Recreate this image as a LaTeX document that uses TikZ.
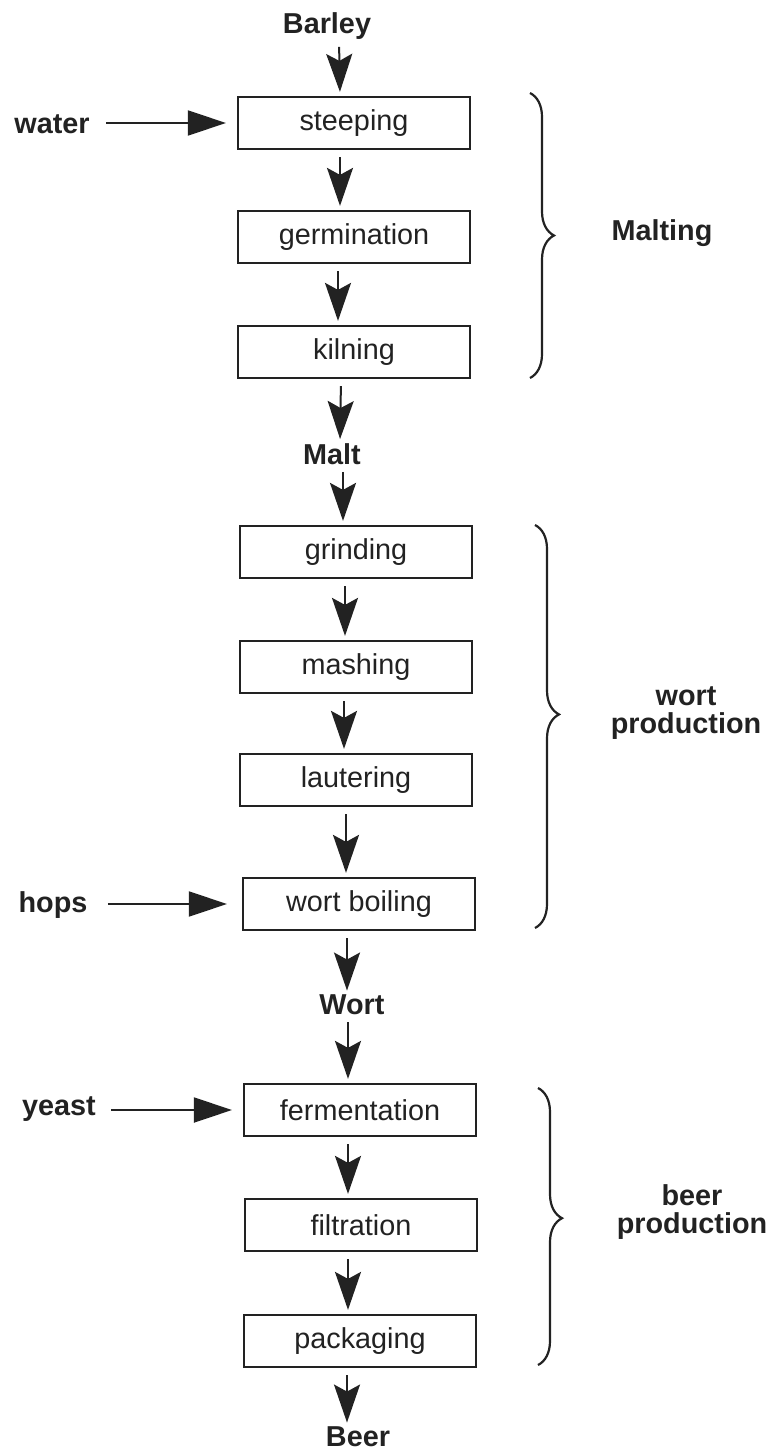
\documentclass[tikz,border=0pt]{standalone}
\usepackage{fontspec}
\setmainfont{Liberation Sans}
\usetikzlibrary{arrows.meta,decorations.pathreplacing}
\definecolor{ink}{HTML}{222222}
\begin{document}
\begin{tikzpicture}[x=0.5pt,y=-0.5pt,
  every node/.style={text=ink,font=\fontsize{14.4}{14.5}\selectfont},
  stage/.style={draw=ink,line width=1.1pt,minimum width=116pt,minimum height=26pt,inner sep=0pt},
  prod/.style={inner sep=0pt,font=\fontsize{14.4}{14.5}\selectfont\bfseries},
  inlbl/.style={inner sep=0pt,font=\fontsize{14.4}{14.5}\selectfont\bfseries},
  grp/.style={inner sep=0pt,align=center,font=\fontsize{14.4}{14}\selectfont\bfseries},
  vflow/.style={draw=ink,line width=1pt,-{Stealth[length=19pt,width=13pt,inset=3.5pt]},shorten <=3.5pt,shorten >=2pt},
  hflow/.style={draw=ink,line width=1pt,-{Triangle[length=19pt,width=12.5pt]}},
  bracebar/.style={draw=ink,line width=1.1pt,decorate,decoration={brace,amplitude=12pt}}]
\useasboundingbox (0,0) rectangle (774,1454);
% products
\node[prod] (barley) at (327,26) {Barley};
\node[prod] (malt) at (332,454) {Malt};
\node[prod] (wort) at (352,1005) {Wort};
\node[prod] (beer) at (358,1437) {Beer};
% stages
\node[stage] (steep) at (354,123) {steeping};
\node[stage] (germ) at (354,237) {germination};
\node[stage] (kiln) at (354,352) {kilning};
\node[stage] (grind) at (356,552) {grinding};
\node[stage] (mash) at (356,667) {mashing};
\node[stage] (laut) at (356,780) {lautering};
\node[stage] (boil) at (359,904) {wort boiling};
\node[stage] (ferm) at (360,1110) {fermentation};
\node[stage] (filt) at (361,1225) {filtration};
\node[stage] (pack) at (360,1341) {packaging};
% inputs
\node[inlbl] (water) at (52,124) {water};
\node[inlbl] (hops) at (53,905) {hops};
\node[inlbl] (yeast) at (59,1109) {yeast};
% vertical flow
\draw[vflow] ([xshift=6pt]barley.south) -- ([xshift=-7pt]steep.north);
\draw[vflow] ([xshift=-7pt]steep.south) -- ([xshift=-7pt]germ.north);
\draw[vflow] ([xshift=-8pt]germ.south) -- ([xshift=-8pt]kiln.north);
\draw[vflow] ([xshift=-6.5pt]kiln.south) -- ([xshift=4pt]malt.north);
\draw[vflow] ([xshift=5.5pt]malt.south) -- ([xshift=-6.5pt]grind.north);
\draw[vflow] ([xshift=-5.5pt]grind.south) -- ([xshift=-5.5pt]mash.north);
\draw[vflow] ([xshift=-6pt]mash.south) -- ([xshift=-6pt]laut.north);
\draw[vflow] ([xshift=-5pt]laut.south) -- ([xshift=-6.5pt]boil.north);
\draw[vflow] ([xshift=-6pt]boil.south) -- ([xshift=-2.5pt]wort.north);
\draw[vflow] ([xshift=-2pt]wort.south) -- ([xshift=-6pt]ferm.north);
\draw[vflow] ([xshift=-6pt]ferm.south) -- ([xshift=-6.5pt]filt.north);
\draw[vflow] ([xshift=-6.5pt]filt.south) -- ([xshift=-6pt]pack.north);
\draw[vflow] ([xshift=-6.5pt]pack.south) -- ([xshift=-5.5pt]beer.north);
% inputs arrows
\draw[hflow,shorten <=8pt,shorten >=5.5pt] (water.east |- steep) -- (steep.west);
\draw[hflow,shorten <=10pt,shorten >=7.5pt] (hops.east |- boil) -- (boil.west);
\draw[hflow,shorten <=7.5pt,shorten >=5.5pt] (yeast.east |- ferm) -- (ferm.west);
% braces
\coordinate (m1) at (530,93);
\coordinate (m2) at (530,378);
\coordinate (w1) at (535,525);
\coordinate (w2) at (535,928);
\coordinate (b1) at (538,1088);
\coordinate (b2) at (538,1365);
\draw[bracebar] (m1) -- (m2);
\draw[bracebar,decoration={aspect=0.47}] (w1) -- (w2);
\draw[bracebar,decoration={aspect=0.47}] (b1) -- (b2);
\node[grp] (malting) at (662,233) {Malting};
\node[grp] (wortprod) at (686,713) {wort\\production};
\node[grp] (beerprod) at (692,1212) {beer\\production};
\end{tikzpicture}
\end{document}
